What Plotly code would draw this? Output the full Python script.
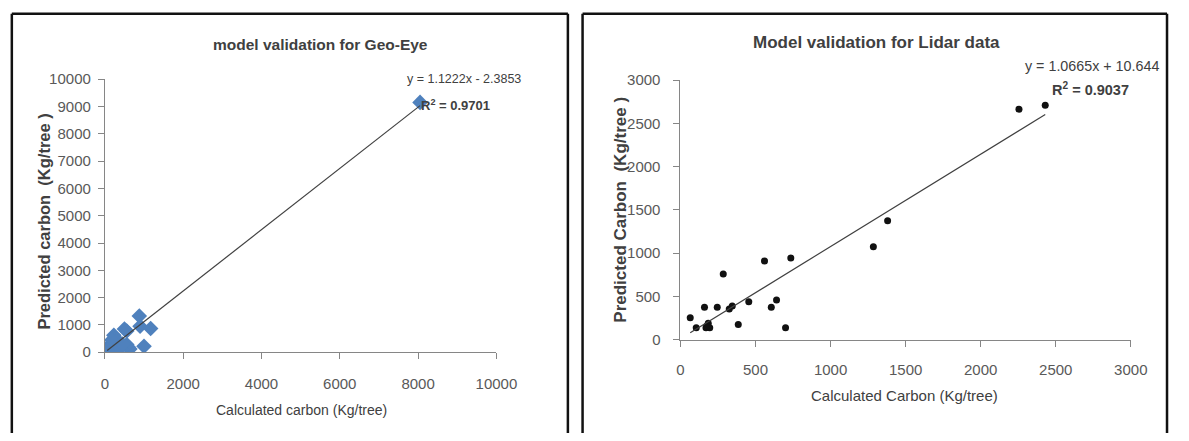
import plotly.graph_objects as go

W, H = 1189, 441

# ---------------- data ----------------
geo_calc = [8050, 880, 900, 1170, 1000, 500, 560, 600, 640, 560, 230, 280, 300, 200,
            150, 80, 120, 250, 350, 400, 180, 320, 60, 450]
geo_pred = [9150, 1330, 950, 870, 220, 850, 780, 180, 120, 280, 620, 500, 400, 350,
            250, 200, 120, 180, 250, 150, 450, 100, 80, 300]
geo_slope, geo_intercept, geo_r2 = 1.1222, -2.3853, 0.9701

lidar_calc = [65, 105, 160, 170, 185, 195, 175, 245, 285, 325, 345, 385, 455, 560,
              605, 640, 700, 735, 1285, 1380, 2255, 2430]
lidar_pred = [255, 140, 375, 140, 190, 140, 160, 375, 760, 355, 390, 175, 440, 910,
              375, 460, 140, 945, 1075, 1375, 2665, 2710]
lid_slope, lid_intercept, lid_r2 = 1.0665, 10.644, 0.9037

geo_xticks = [0, 2000, 4000, 6000, 8000, 10000]
geo_yticks = [0, 1000, 2000, 3000, 4000, 5000, 6000, 7000, 8000, 9000, 10000]
lid_ticks = [0, 500, 1000, 1500, 2000, 2500, 3000]

FONT = "Liberation Sans, Arial, sans-serif"
AXC = "#868686"
TXT = "#404040"

def px(x):
    return x / W

def py(y):
    return 1 - y / H

fig = go.Figure()

# Geo-Eye scatter
fig.add_trace(go.Scatter(x=geo_calc, y=geo_pred, mode="markers",
                         marker=dict(symbol="diamond", size=12, color="#4f81bd"),
                         xaxis="x", yaxis="y", showlegend=False))
gx = [min(geo_calc), max(geo_calc)]
fig.add_trace(go.Scatter(x=gx, y=[geo_slope * v + geo_intercept for v in gx], mode="lines",
                         line=dict(color="#404040", width=1.2),
                         xaxis="x", yaxis="y", showlegend=False))

# Lidar scatter
fig.add_trace(go.Scatter(x=lidar_calc, y=lidar_pred, mode="markers",
                         marker=dict(symbol="circle", size=7, color="#111111"),
                         xaxis="x2", yaxis="y2", showlegend=False))
lx = [min(lidar_calc), max(lidar_calc)]
fig.add_trace(go.Scatter(x=lx, y=[lid_slope * v + lid_intercept for v in lx], mode="lines",
                         line=dict(color="#404040", width=1.2),
                         xaxis="x2", yaxis="y2", showlegend=False))

def ax(domain, rng, ticks, anchor, standoff, size):
    return dict(domain=domain, range=rng, tickvals=ticks, ticktext=[str(t) for t in ticks],
                anchor=anchor, showgrid=False, zeroline=False, showline=True,
                linecolor=AXC, linewidth=1, ticks="outside", tickcolor=AXC, ticklen=6,
                ticklabelstandoff=standoff,
                tickfont=dict(family=FONT, size=size, color="#595959"))

fig.update_layout(
    width=W, height=H, margin=dict(l=0, r=0, t=0, b=0),
    paper_bgcolor="white", plot_bgcolor="white",
    xaxis=ax([px(103), px(503)], [0, 10000], geo_xticks, "y", 12, 15),
    yaxis=ax([py(357), py(73)], [0, 10000], geo_yticks, "x", 4, 15),
    xaxis2=ax([px(691), px(1151)], [0, 3000], lid_ticks, "y2", 10, 15),
    yaxis2=ax([py(344), py(74)], [0, 3000], lid_ticks, "x2", 10, 15),
)

ann = []
def add_text(x, y, text, size=13, bold=False, angle=0, color=TXT):
    ann.append(dict(x=px(x), y=py(y), xref="paper", yref="paper", showarrow=False,
                    text=("<b>%s</b>" % text) if bold else text, textangle=angle,
                    font=dict(family=FONT, size=size, color=color),
                    xanchor="center", yanchor="middle"))

add_text(323, 37, "model validation for Geo-Eye", size=15.5, bold=True)
add_text(304, 417, "Calculated carbon (Kg/tree)", size=14)
add_text(41, 221, "Predicted carbon  (Kg/tree )", size=16.5, bold=True, angle=-90)
add_text(470, 73, "y = %.4fx - %.4f" % (geo_slope, -geo_intercept), size=12.5)
add_text(461, 100, "R<sup>2</sup> = %.4f" % geo_r2, size=13, bold=True)

add_text(891, 35, "Model validation for Lidar data", size=17, bold=True)
add_text(920, 402, "Calculated Carbon (Kg/tree)", size=15)
add_text(630, 209, "Predicted Carbon  (Kg/tree )", size=17, bold=True, angle=-90)
add_text(1111, 59, "y = %.4fx + %.3f" % (lid_slope, lid_intercept), size=14.3)
add_text(1110, 83, "R<sup>2</sup> = %.4f" % lid_r2, size=14.5, bold=True)

fig.update_layout(annotations=ann)

shapes = []
def vline(x, y0, y1):
    shapes.append(dict(type="line", xref="paper", yref="paper", x0=px(x), x1=px(x),
                       y0=py(y0), y1=py(y1), line=dict(color="#111111", width=2.5)))
def hline(x0, x1, y):
    shapes.append(dict(type="line", xref="paper", yref="paper", x0=px(x0), x1=px(x1),
                       y0=py(y), y1=py(y), line=dict(color="#111111", width=2.5)))

hline(8, 576, 5)
vline(8, 5, 441)
vline(576, 5, 441)
hline(591, 1188, 5)
vline(591, 5, 441)
vline(1188, 5, 441)
fig.update_layout(shapes=shapes)

fig.write_html("out.html")
